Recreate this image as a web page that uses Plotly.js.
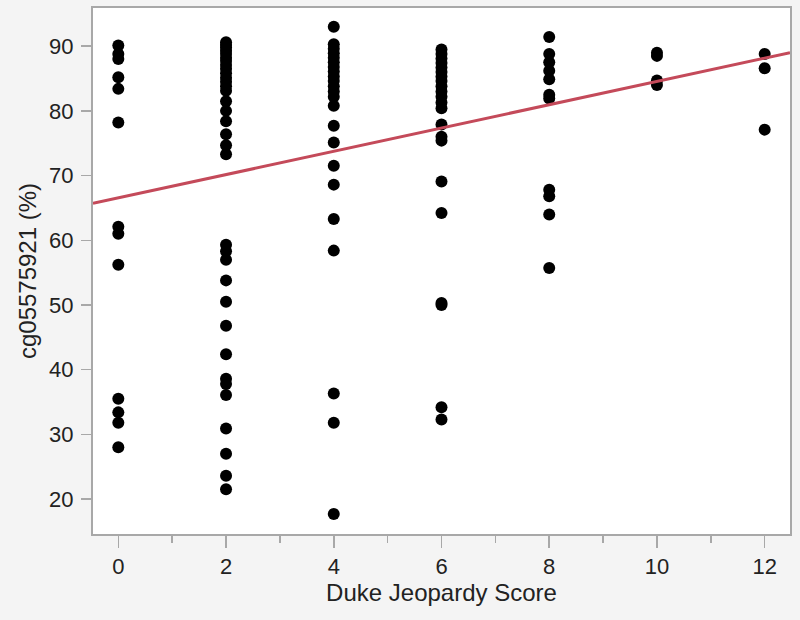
<!DOCTYPE html>
<html>
<head>
<meta charset="utf-8">
<script src="https://cdn.plot.ly/plotly-3.0.1.min.js"></script>
<style>html,body{margin:0;padding:0;background:#f4f4f4;}#chart{width:800px;height:620px;}</style>
</head>
<body>
<div id="chart"></div>
<script>
// Duke Jeopardy Score groups and cg05575921 (%) values
const score0 = [90.1, 88.8, 88.0, 85.2, 83.4, 78.2, 62.1, 61.0, 56.2, 35.5, 33.4, 31.8, 28.0];
const score2 = [90.6, 90.2, 89.8, 89.3, 88.8, 88.2, 87.7, 87.1, 86.5, 85.8, 85.1, 84.5, 83.8, 83.1,
                81.5, 80.0, 78.4, 76.4, 74.7, 73.3,
                59.3, 58.3, 57.0, 53.8, 50.5, 46.8, 42.4, 38.6, 37.8, 36.1, 30.9, 27.0, 23.6, 21.5];
const score4 = [93.0, 90.3, 89.6, 88.9, 88.2, 87.5, 86.8, 86.1, 85.3, 84.6, 83.8, 83.0, 82.2,
                80.8, 77.7, 75.1, 71.5, 68.6, 63.3, 58.4, 36.3, 31.8, 17.7];
const score6 = [89.5, 88.8, 88.1, 87.4, 86.7, 86.0, 85.3, 84.6, 83.8, 83.0, 82.2, 81.3, 80.4,
                77.9, 76.0, 75.4, 69.1, 64.2, 50.3, 50.0, 34.2, 32.3];
const score8 = [91.4, 88.8, 87.5, 86.2, 84.9, 82.5, 81.9, 67.8, 66.8, 64.0, 55.7];
const score10 = [89.0, 88.5, 84.7, 84.0];
const score12 = [88.8, 86.6, 77.1];

const groupScores = [0, 2, 4, 6, 8, 10, 12];
const groupValues = [score0, score2, score4, score6, score8, score10, score12];

// Fitted line
const fitIntercept = 66.55;
const fitSlope = 1.80;

const xRange = [-0.47, 12.47];
const yRange = [14.6, 95.9];
const xTickVals = [0, 2, 4, 6, 8, 10, 12];
const yTickVals = [20, 30, 40, 50, 60, 70, 80, 90];

const xs = [], ys = [];
groupValues.forEach((vals, i) => vals.forEach(v => { xs.push(groupScores[i]); ys.push(v); }));

const traces = [
  {
    x: xs, y: ys, type: 'scatter', mode: 'markers',
    marker: {color: '#000000', size: 12},
    hoverinfo: 'x+y'
  },
  {
    x: xRange, y: xRange.map(x => fitIntercept + fitSlope * x),
    type: 'scatter', mode: 'lines',
    line: {color: '#c44a5a', width: 3}
  }
];

const tickFont = {family: 'Liberation Sans, Arial, sans-serif', size: 22, color: '#222222'};
const titleFont = {family: 'Liberation Sans, Arial, sans-serif', size: 24, color: '#222222'};

const layout = {
  width: 800, height: 620,
  paper_bgcolor: '#f4f4f4', plot_bgcolor: '#ffffff',
  showlegend: false,
  margin: {l: 93, r: 10, t: 8, b: 86},
  xaxis: {
    range: xRange, tickvals: xTickVals, ticktext: xTickVals.map(String),
    showgrid: false, zeroline: false,
    showline: true, mirror: true, linecolor: '#a8a8a8', linewidth: 2,
    ticks: 'outside', ticklen: 12, tickcolor: '#a8a8a8', tickwidth: 1.5,
    minor: {dtick: 1, tick0: 1, ticks: 'outside', ticklen: 7, tickcolor: '#a8a8a8', tickwidth: 1.5, showgrid: false},
    tickfont: tickFont, ticklabelstandoff: 0,
    title: {text: 'Duke Jeopardy Score', font: titleFont, standoff: 4}
  },
  yaxis: {
    range: yRange, tickvals: yTickVals, ticktext: yTickVals.map(String),
    showgrid: false, zeroline: false,
    showline: true, mirror: true, linecolor: '#a8a8a8', linewidth: 2,
    ticks: 'outside', ticklen: 10, tickcolor: '#a8a8a8', tickwidth: 1.5,
    tickfont: tickFont, ticklabelstandoff: 3,
    title: {text: 'cg05575921 (%)', font: titleFont, standoff: 6}
  }
};

Plotly.newPlot('chart', traces, layout, {displayModeBar: false, staticPlot: true});
</script>
</body>
</html>
